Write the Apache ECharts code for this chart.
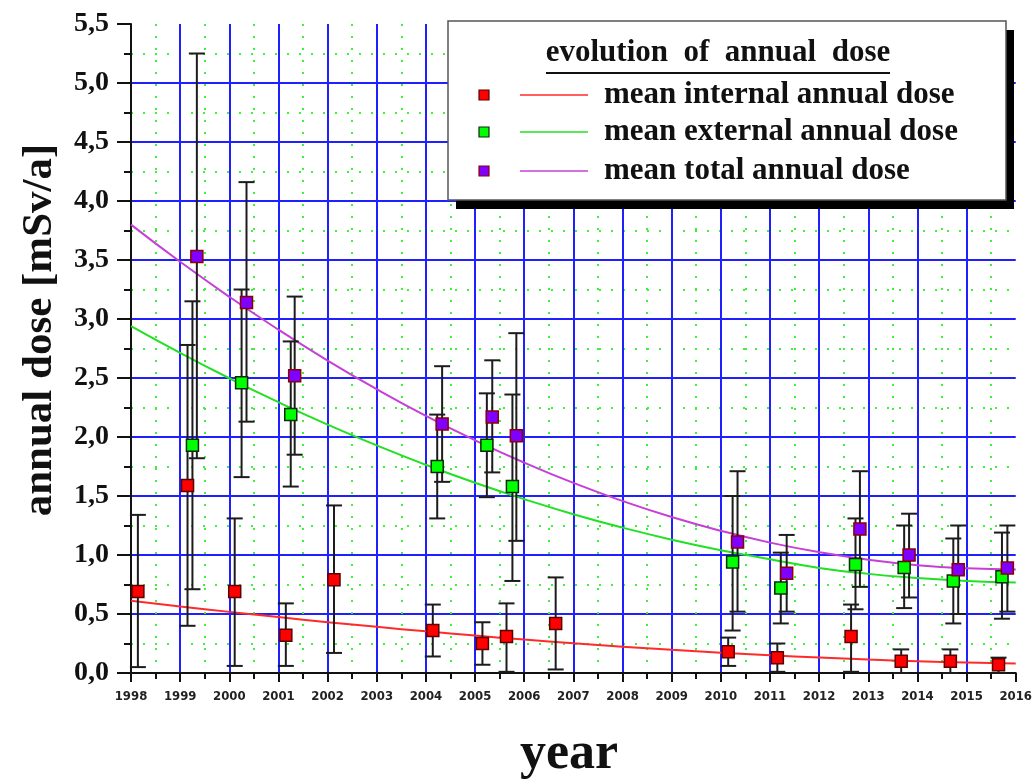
<!DOCTYPE html>
<html>
<head>
<meta charset="utf-8">
<title>evolution of annual dose</title>
<script src="https://cdn.jsdelivr.net/npm/echarts@6/dist/echarts.min.js"></script>
<style>
  html, body { margin: 0; padding: 0; background: #ffffff; }
  #chart { width: 1035px; height: 780px; }
</style>
</head>
<body>
<div id="chart"></div>
<script>
// ---- mean internal annual dose (mSv/a) ----
const internalYears = [1998.14, 1999.15, 2000.11, 2001.15, 2002.13, 2004.14, 2005.15, 2005.64, 2006.64, 2010.15, 2011.15, 2012.65, 2013.67, 2014.67, 2015.65];
const internalMean  = [0.69, 1.59, 0.69, 0.32, 0.79, 0.36, 0.25, 0.31, 0.42, 0.18, 0.13, 0.31, 0.10, 0.10, 0.07];
const internalLow   = [0.05, 0.40, 0.06, 0.06, 0.17, 0.14, 0.07, 0.01, 0.03, 0.06, 0.01, 0.01, 0.00, 0.00, 0.00];
const internalHigh  = [1.34, 2.78, 1.31, 0.59, 1.42, 0.58, 0.43, 0.59, 0.81, 0.30, 0.25, 0.58, 0.20, 0.20, 0.13];

// ---- mean external annual dose (mSv/a) ----
const externalYears = [1999.25, 2000.25, 2001.25, 2004.23, 2005.24, 2005.76, 2010.24, 2011.22, 2012.74, 2013.73, 2014.73, 2015.72];
const externalMean  = [1.93, 2.46, 2.19, 1.75, 1.93, 1.58, 0.94, 0.72, 0.92, 0.895, 0.78, 0.815];
const externalLow   = [0.71, 1.66, 1.58, 1.31, 1.49, 0.78, 0.36, 0.42, 0.54, 0.55, 0.42, 0.46];
const externalHigh  = [3.15, 3.25, 2.81, 2.19, 2.37, 2.36, 1.50, 1.02, 1.31, 1.25, 1.14, 1.19];

// ---- mean total annual dose (mSv/a) ----
const totalYears = [1999.34, 2000.35, 2001.33, 2004.33, 2005.35, 2005.84, 2010.34, 2011.34, 2012.83, 2013.83, 2014.83, 2015.83];
const totalMean  = [3.53, 3.14, 2.52, 2.11, 2.17, 2.01, 1.11, 0.845, 1.22, 1.00, 0.875, 0.89];
const totalLow   = [1.82, 2.13, 1.85, 1.62, 1.70, 1.12, 0.52, 0.52, 0.73, 0.64, 0.50, 0.52];
const totalHigh  = [5.25, 4.16, 3.19, 2.60, 2.65, 2.88, 1.71, 1.17, 1.71, 1.35, 1.25, 1.25];

// ---- trend curves, one value per year ----
const trendYears    = [1998, 1999, 2000, 2001, 2002, 2003, 2004, 2005, 2006, 2007, 2008, 2009, 2010, 2011, 2012, 2013, 2014, 2015, 2016];
const internalTrend = [0.613, 0.564, 0.518, 0.474, 0.431, 0.391, 0.353, 0.317, 0.283, 0.252, 0.223, 0.196, 0.172, 0.150, 0.131, 0.114, 0.100, 0.089, 0.080];
const externalTrend = [2.940, 2.713, 2.498, 2.295, 2.105, 1.929, 1.764, 1.612, 1.473, 1.346, 1.232, 1.130, 1.041, 0.964, 0.890, 0.840, 0.805, 0.780, 0.768];
const totalTrend    = [3.800, 3.485, 3.188, 2.909, 2.648, 2.405, 2.179, 1.972, 1.783, 1.611, 1.458, 1.322, 1.205, 1.105, 1.024, 0.960, 0.914, 0.887, 0.877];

// ---- texts ----
const legendTitle = 'evolution  of  annual  dose';
const seriesNames = ['mean internal annual dose', 'mean external annual dose', 'mean total annual dose'];
const xAxisTitle = 'year';
const yAxisTitle = 'annual dose [mSv/a]';

const SERIF = "'Liberation Serif', 'Times New Roman', serif";
const NARROW = "'Liberation Sans Narrow', 'DejaVu Sans Condensed', 'Arial Narrow', sans-serif";

const colors = {
  internal: { fill: '#ff0000', border: '#5a0000', line: '#ff2a2a' },
  external: { fill: '#00ff00', border: '#0a2a0a', line: '#22e022' },
  total:    { fill: '#8000ff', border: '#8b0000', line: '#c63fd6' }
};

function points(xs, ys) { return xs.map((x, i) => [x, ys[i]]); }
function ranges(xs, lo, hi) { return xs.map((x, i) => [x, lo[i], hi[i]]); }

// vertical error bar with end caps
function errorBarItem(params, api) {
  const x = api.value(0);
  const lo = api.coord([x, api.value(1)]);
  const hi = api.coord([x, api.value(2)]);
  const w = 8;
  const style = { stroke: '#1c1c1c', lineWidth: 2 };
  return {
    type: 'group',
    children: [
      { type: 'line', shape: { x1: lo[0], y1: lo[1], x2: hi[0], y2: hi[1] }, style: style },
      { type: 'line', shape: { x1: hi[0] - w, y1: hi[1], x2: hi[0] + w, y2: hi[1] }, style: style },
      { type: 'line', shape: { x1: lo[0] - w, y1: lo[1], x2: lo[0] + w, y2: lo[1] }, style: style }
    ]
  };
}

function trendSeries(name, ys, color) {
  return {
    name: name, type: 'line', data: points(trendYears, ys), smooth: true,
    showSymbol: false, silent: true, z: 2,
    lineStyle: { color: color, width: 2 }
  };
}
function errorSeries(xs, lo, hi) {
  return {
    type: 'custom', data: ranges(xs, lo, hi), renderItem: errorBarItem,
    encode: { x: 0, y: [1, 2] }, silent: true, z: 3
  };
}
function markerSeries(name, xs, ys, c) {
  return {
    name: name, type: 'scatter', data: points(xs, ys), symbol: 'rect', symbolSize: 12, z: 4,
    itemStyle: { color: c.fill, borderColor: c.border, borderWidth: 1.5, opacity: 1 }
  };
}

// legend box drawn with graphic elements
const legendLeft = 448, legendTop = 21, legendW = 558, legendH = 179;
const rowY = [95, 132, 171];
const rowColors = [colors.internal, colors.external, colors.total];
const legendGraphics = [
  { type: 'rect', shape: { x: legendLeft + 8, y: legendTop + 9, width: legendW, height: legendH }, style: { fill: '#000' }, z: 100 },
  { type: 'rect', shape: { x: legendLeft, y: legendTop, width: legendW, height: legendH }, style: { fill: '#fff', stroke: '#555', lineWidth: 1.5 }, z: 101 },
  { type: 'text', x: 718, y: 53, z: 102,
    style: { text: legendTitle, font: 'bold 31px ' + SERIF, fill: '#111', align: 'center', verticalAlign: 'middle' } },
  { type: 'line', shape: { x1: 546, y1: 73, x2: 890, y2: 73 }, style: { stroke: '#111', lineWidth: 2 }, z: 102 }
];
seriesNames.forEach((name, i) => {
  const y = rowY[i];
  const c = rowColors[i];
  legendGraphics.push(
    { type: 'rect', shape: { x: 479, y: y - 5, width: 10, height: 10 }, style: { fill: c.fill, stroke: c.border, lineWidth: 1.2 }, z: 102 },
    { type: 'line', shape: { x1: 520, y1: y, x2: 588, y2: y }, style: { stroke: c.line, lineWidth: 1.6 }, z: 102 },
    { type: 'text', x: 604, y: y, z: 102,
      style: { text: name, font: 'bold 31px ' + SERIF, fill: '#111', align: 'left', verticalAlign: 'middle' } }
  );
});

const chart = echarts.init(document.getElementById('chart'), null, { renderer: 'canvas' });

chart.setOption({
  backgroundColor: '#ffffff',
  animation: false,
  grid: { left: 131, right: 19, top: 24, bottom: 107, containLabel: false },
  xAxis: {
    type: 'value', min: 1998, max: 2016, interval: 1,
    axisLine: { show: true, onZero: false, lineStyle: { color: '#111', width: 2 } },
    axisTick: { show: true, inside: false, length: 9, lineStyle: { color: '#111', width: 2 } },
    minorTick: { show: true, splitNumber: 2, length: 6, lineStyle: { color: '#111', width: 2 } },
    axisLabel: { margin: 17, color: '#222', fontFamily: NARROW, fontWeight: 'bold', fontSize: 13, formatter: v => String(v) },
    splitLine: { show: true, showMinLine: false, showMaxLine: false, lineStyle: { color: '#1f1fff', width: 2 } },
    minorSplitLine: { show: true, lineStyle: { color: '#3cf03c', width: 2, type: [2, 10] } }
  },
  yAxis: {
    type: 'value', min: 0, max: 5.5, interval: 0.5,
    axisLine: { show: true, onZero: false, lineStyle: { color: '#111', width: 2 } },
    axisTick: { show: true, inside: false, length: 14, lineStyle: { color: '#111', width: 2 } },
    minorTick: { show: true, splitNumber: 2, length: 7, lineStyle: { color: '#111', width: 2 } },
    axisLabel: { margin: 22, color: '#111', fontFamily: SERIF, fontWeight: 'bold', fontSize: 28,
      formatter: v => v.toFixed(1).replace('.', ',') },
    splitLine: { show: true, showMinLine: false, showMaxLine: false, lineStyle: { color: '#1f1fff', width: 2 } },
    minorSplitLine: { show: true, lineStyle: { color: '#3cf03c', width: 2, type: [2, 10] } }
  },
  series: [
    trendSeries(seriesNames[0], internalTrend, colors.internal.line),
    trendSeries(seriesNames[1], externalTrend, colors.external.line),
    trendSeries(seriesNames[2], totalTrend, colors.total.line),
    errorSeries(internalYears, internalLow, internalHigh),
    errorSeries(externalYears, externalLow, externalHigh),
    errorSeries(totalYears, totalLow, totalHigh),
    markerSeries(seriesNames[0], internalYears, internalMean, colors.internal),
    markerSeries(seriesNames[1], externalYears, externalMean, colors.external),
    markerSeries(seriesNames[2], totalYears, totalMean, colors.total)
  ],
  graphic: legendGraphics.concat([
    { type: 'text', x: 40, y: 330, rotation: Math.PI / 2,
      style: { text: yAxisTitle, font: 'bold 43px ' + SERIF, fill: '#111', align: 'center', verticalAlign: 'middle' } },
    { type: 'text', x: 569, y: 755,
      style: { text: xAxisTitle, font: 'bold 52px ' + SERIF, fill: '#111', align: 'center', verticalAlign: 'middle' } }
  ])
});
</script>
</body>
</html>
